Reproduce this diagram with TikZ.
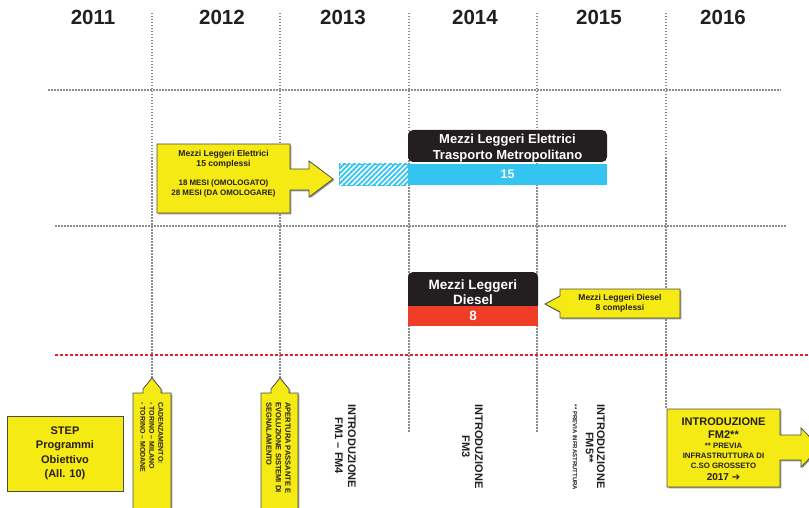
\documentclass[tikz,border=0pt]{standalone}
\usepackage{fontspec}
\setmainfont{Liberation Sans}
\newfontfamily\symfont{DejaVu Sans}
\usetikzlibrary{shadows,patterns.meta}

\definecolor{ylw}{HTML}{F5EA14}
\definecolor{skyb}{HTML}{33C4F2}
\definecolor{redbar}{HTML}{EF3E25}
\definecolor{darkbox}{HTML}{231F20}
\definecolor{ink}{HTML}{231F20}
\definecolor{gridgray}{HTML}{8C8C8C}
\definecolor{gridred}{HTML}{E5202A}

\newcommand{\fs}[2]{\fontsize{#1}{#2}\selectfont\bfseries}

\begin{document}
\begin{tikzpicture}[x=1pt,y=-1pt,
  gridline/.style={draw=gridgray, line width=1.4pt, dash pattern=on 1.5pt off 1.5pt},
  redline/.style={draw=gridred, line width=1.8pt, dash pattern=on 3pt off 2pt},
  yearlabel/.style={font=\fs{20.5}{22}, text=ink, inner sep=0pt},
  callout/.style={fill=ylw, draw=black!70, line width=0.8pt,
    drop shadow={shadow xshift=1.3pt, shadow yshift=-1.3pt, fill=black!40, opacity=1}},
  calltext/.style={text=ink, inner sep=0pt, align=center},
  headtext/.style={text=white, inner sep=0pt, align=center},
  vtext/.style={text=ink, inner sep=0pt, rotate=-90},
]
\useasboundingbox (0,0) rectangle (809,508);
\clip (0,0) rectangle (809,508);

% year headings
\foreach \yr/\xc in {2011/93, 2012/222, 2013/343, 2014/475, 2015/599, 2016/723}
  \node[yearlabel] (y\yr) at (\xc,17) {\yr};

% year separators
\foreach \xv/\yb in {152/379, 280/379, 409/432, 537/432, 666/409}
  \draw[gridline] (\xv,13) -- (\xv,\yb);

% row separators
\draw[gridline] (48,90) -- (781,90);
\draw[gridline] (55,226) -- (787,226);
\draw[redline] (55,355) -- (809,355);

% --- electric light vehicles ---
\path[callout] (157,144) -- (290,144) -- (290,169) -- (309,169) -- (309,161)
  -- (333,179) -- (309,197) -- (309,190) -- (290,190) -- (290,213) -- (157,213) -- cycle;
\node[calltext, font=\fs{8.6}{9.5}] (elnote) at (223.5,159.5)
  {Mezzi Leggeri Elettrici\\15 complessi};
\node[calltext, font=\fs{7.9}{9.2}] (elterm) at (223.5,188.5)
  {18 MESI (OMOLOGATO)\\28 MESI (DA OMOLOGARE)};

\path[pattern={Lines[angle=45,distance=3.6pt,line width=1.8pt]}, pattern color=skyb]
  (339,164) rectangle (408,186);
\draw[skyb, line width=1.4pt, dash pattern=on 5pt off 2.5pt]
  (408,164.7) -- (339.7,164.7) -- (339.7,185.3) -- (408,185.3);

\node[fill=darkbox, rounded corners=5pt, minimum width=199pt, minimum height=32pt,
  inner sep=0pt] (elhead) at (507.5,146) {};
\node[headtext, font=\fs{13}{15.5}] (elheadtxt) at (507.5,148)
  {Mezzi Leggeri Elettrici\\Trasporto Metropolitano};
\node[fill=skyb, minimum width=199pt, minimum height=21pt, inner sep=0pt,
  text=white, font=\fs{12.5}{14}] (elbar) at (507.5,174.5) {15};

% --- diesel light vehicles ---
\node[fill=darkbox, rounded corners=5pt, minimum width=130pt, minimum height=38pt,
  inner sep=0pt] (dshead) at (473,291) {};
\node[headtext, font=\fs{13.5}{15}] (dsheadtxt) at (473,292.5)
  {Mezzi Leggeri\\Diesel};
\node[fill=redbar, minimum width=130pt, minimum height=20pt, inner sep=0pt,
  text=white, font=\fs{13.5}{15}] (dsbar) at (473,315.5) {8};

\path[callout] (560,289) -- (680,289) -- (680,318) -- (560,318) -- (560,312)
  -- (545,304) -- (560,296) -- cycle;
\node[calltext, font=\fs{8.5}{10.5}] (dsnote) at (620,303.5)
  {Mezzi Leggeri Diesel\\8 complessi};

% --- milestones ---
\node[fill=ylw, draw=black!70, line width=0.8pt, minimum width=116pt, minimum height=75pt,
  drop shadow={shadow xshift=1.3pt, shadow yshift=-1.3pt, fill=black!40, opacity=1},
  text=ink, align=center, font=\fs{11}{14.5}] (step) at (65,453.5)
  {STEP\\Programmi\\Obiettivo\\(All. 10)};

\path[callout] (133,393) -- (143,393) -- (143,389) -- (152,378) -- (161,389) -- (161,393)
  -- (171,393) -- (171,515) -- (133,515) -- cycle;
\node[vtext, anchor=north west, align=left, font=\fs{7}{9}] (cad) at (163.5,402)
  {CADENZAMENTO:\\- TORINO – MILANO\\- TORINO – MODANE};

\path[callout] (261,393) -- (271,393) -- (271,389) -- (280,378) -- (289,389) -- (289,393)
  -- (298,393) -- (298,515) -- (261,515) -- cycle;
\node[vtext, anchor=north west, align=left, font=\fs{7.5}{9.5}] (pass) at (290.8,402)
  {APERTURA PASSANTE E\\EVOLUZIONE SISTEMI DI\\SEGNALAMENTO};

\node[vtext, align=center, font=\fs{11}{13}] (fm14) at (345.5,446)
  {INTRODUZIONE\\FM1 – FM4};
\node[vtext, align=center, font=\fs{11}{13}] (fm3) at (472.5,446.5)
  {INTRODUZIONE\\FM3};
\node[vtext, font=\fs{11}{13}] (fm5a) at (601,446.5) {INTRODUZIONE};
\node[vtext, font=\fs{11}{13}] (fm5b) at (589.5,447.5) {FM5**};
\node[vtext, font=\fs{6}{7}] (fm5c) at (575,447.5) {** PREVIA INFRASTRUTTURA};

\path[callout] (667,409) -- (780,409) -- (780,435) -- (801,435) -- (801,428)
  -- (820,447.5) -- (801,467) -- (801,460) -- (780,460) -- (780,487) -- (667,487) -- cycle;
\node[calltext, font=\fs{11}{13}] (fm2a) at (723.5,422) {INTRODUZIONE};
\node[calltext, font=\fs{11}{13}] (fm2b) at (723.5,434.5) {FM2**};
\node[calltext, font=\fs{7.8}{9}] (fm2c) at (723.5,446) {** PREVIA};
\node[calltext, font=\fs{7.8}{9}] (fm2d) at (723.5,455.5) {INFRASTRUTTURA DI};
\node[calltext, font=\fs{7.8}{9}] (fm2e) at (723.5,465.5) {C.SO GROSSETO};
\node[calltext, font=\fs{10}{12}] (fm2f) at (723.5,477) {2017 {\symfont\bfseries ➔}};
\end{tikzpicture}
\end{document}
